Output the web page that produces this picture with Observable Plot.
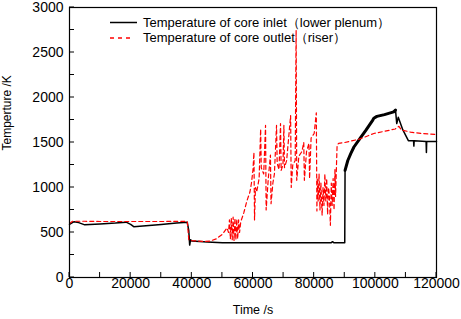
<!DOCTYPE html>
<html><head><meta charset="utf-8">
<script src="https://cdn.jsdelivr.net/npm/d3@7"></script>
<script src="https://cdn.jsdelivr.net/npm/@observablehq/plot@0.6"></script>
<style>
body{margin:0;background:#fff;}
#chart{width:461px;height:319px;font-family:"Liberation Sans",Arial,sans-serif;}
</style>
</head><body><div id="chart"></div>
<script>
// Core inlet (lower plenum), black solid
const inletTime = [0,1500,3000,5000,10000,15000,18500,20000,21000,25000,30000,35000,38500,39000,39300,39600,40000,45000,50000,60000,70000,80000,85500,86000,86500,90000,
  90100,91000,92000,93000,95000,97000,99000,99500,100500,103000,106000,106600,107000,107500,109000,110800,112500,112600,112700,116600,116700,116800,120000];
const inletTemp = [590,620,610,585,595,605,615,590,565,575,590,605,615,520,360,420,405,395,385,385,385,385,385,398,385,385,
  1190,1300,1380,1450,1545,1640,1740,1770,1790,1810,1840,1860,1710,1780,1640,1520,1520,1460,1520,1510,1390,1510,1510];
// Core outlet (riser), red dashed
const outletTime = [0,1000,5000,10000,20000,30000,38500,39000,40000,44000,46000,48000,50000,51500,
  52000,52300,52600,52900,53200,53500,53800,54100,54400,54700,55000,55300,55600,56000,57000,58000,59000,59500,60000,
  60300,60500,60800,61200,62000,62500,62700,63500,64100,64300,65000,65700,65900,66500,67000,67700,67900,68500,69000,69200,69800,
  70100,70300,71000,72300,72500,73000,73800,74100,74300,75000,76000,76600,76800,77500,78300,78500,79000,80000,80700,80900,
  81000,81300,81600,81900,82200,82600,82900,83200,83500,83800,84100,84400,84700,85000,85300,85600,85900,86200,86500,86800,87000,87300,
  87500,88000,90000,95000,99500,106500,107700,108500,111500,115000,120000];
const outletTemp = [600,625,625,622,622,622,625,420,410,400,405,430,480,550,
  500,640,430,660,420,670,410,660,420,650,430,640,500,620,720,850,950,1050,1200,
  1390,640,1000,950,1100,1650,1220,1150,1690,750,1100,1360,820,1050,1150,1690,1270,1200,1710,1190,1250,
  1690,1220,1300,1800,1000,1250,1300,2750,1080,1350,1400,1500,1080,1400,1490,1100,1550,1600,1830,740,
  1100,850,1150,750,1050,690,1000,800,1150,850,1100,700,1000,900,580,1050,800,1100,750,1200,900,1250,
  1470,1490,1500,1540,1600,1650,1680,1640,1615,1600,1590];

const xTicks = [0,10000,20000,30000,40000,50000,60000,70000,80000,90000,100000,110000,120000];
const xTickLabels = ["0","","20000","","40000","","60000","","80000","","100000","","120000"];
const yTicks = [0,250,500,750,1000,1250,1500,1750,2000,2250,2500,2750,3000];
const yTickLabels = ["0","","500","","1000","","1500","","2000","","2500","","3000"];
const legendLabels = ["Temperature of core inlet（lower plenum）","Temperature of core outlet（riser）"];
const xTitle = "Time /s";
const yTitle = "Temperture /K";

const inlet = inletTime.map((t,i)=>({t, v: inletTemp[i]}));
const outlet = outletTime.map((t,i)=>({t, v: outletTemp[i]}));

const plot = Plot.plot({
  width: 461, height: 319,
  marginLeft: 69, marginRight: 25, marginTop: 7, marginBottom: 42,
  style: {fontFamily: '"Liberation Sans", Arial, sans-serif', fontSize: "14px", color: "#000", background: "#fff"},
  x: {domain: [0, 120000]},
  y: {domain: [0, 3000]},
  marks: [
    Plot.axisX({ticks: xTicks, tickFormat: d => xTickLabels[xTicks.indexOf(d)], tickSize: 0, tickPadding: 1, label: null, fontSize: 14}),
    Plot.axisY({ticks: yTicks, tickFormat: d => yTickLabels[yTicks.indexOf(d)], tickSize: 0, tickPadding: 6, label: null, fontSize: 14}),
    Plot.line(inlet, {x: "t", y: "v", stroke: "black", strokeWidth: 1.5}),
    Plot.line(inlet.filter(d => d.t >= 90100 && d.t <= 106600), {x: "t", y: "v", stroke: "black", strokeWidth: 3}),
    Plot.line(outlet, {x: "t", y: "v", stroke: "red", strokeWidth: 1.2, strokeDasharray: "4,3"}),
    Plot.frame({stroke: "black", strokeWidth: 1.2}),
    Plot.text([xTitle], {frameAnchor: "bottom", dy: 36, fontSize: 12.5}),
    Plot.text([yTitle], {frameAnchor: "left", dx: -62, dy: 8, rotate: -90, fontSize: 12})
  ]
});
document.getElementById("chart").append(plot);

const svg = d3.select(plot);
const xs = plot.scale("x"), ys = plot.scale("y");
const [yBottom] = ys.range, xLeft = xs.range[0];
// Inward tick marks
const tg = svg.append("g").attr("stroke","black").attr("stroke-width",1);
tg.selectAll(".xt").data(xTicks).join("line")
  .attr("x1", d => xs.apply(d)).attr("x2", d => xs.apply(d))
  .attr("y1", yBottom).attr("y2", yBottom - 5);
tg.selectAll(".yt").data(yTicks).join("line")
  .attr("class","yt")
  .attr("y1", d => ys.apply(d)).attr("y2", d => ys.apply(d))
  .attr("x1", xLeft).attr("x2", xLeft + 5);

// Legend inside the frame
const lg = svg.append("g").attr("text-anchor","start");
lg.append("line").attr("x1",110).attr("x2",137).attr("y1",22.5).attr("y2",22.5).attr("stroke","black").attr("stroke-width",1.5);
lg.append("line").attr("x1",110).attr("x2",134).attr("y1",38).attr("y2",38).attr("stroke","red").attr("stroke-width",1.5).attr("stroke-dasharray","4,4");
lg.selectAll("text").data(legendLabels).join("text")
  .attr("x",143).attr("y",(d,i)=> i===0 ? 26.5 : 41.5)
  .attr("font-size",13).attr("fill","black")
  .text(d=>d);
</script>
</body></html>
